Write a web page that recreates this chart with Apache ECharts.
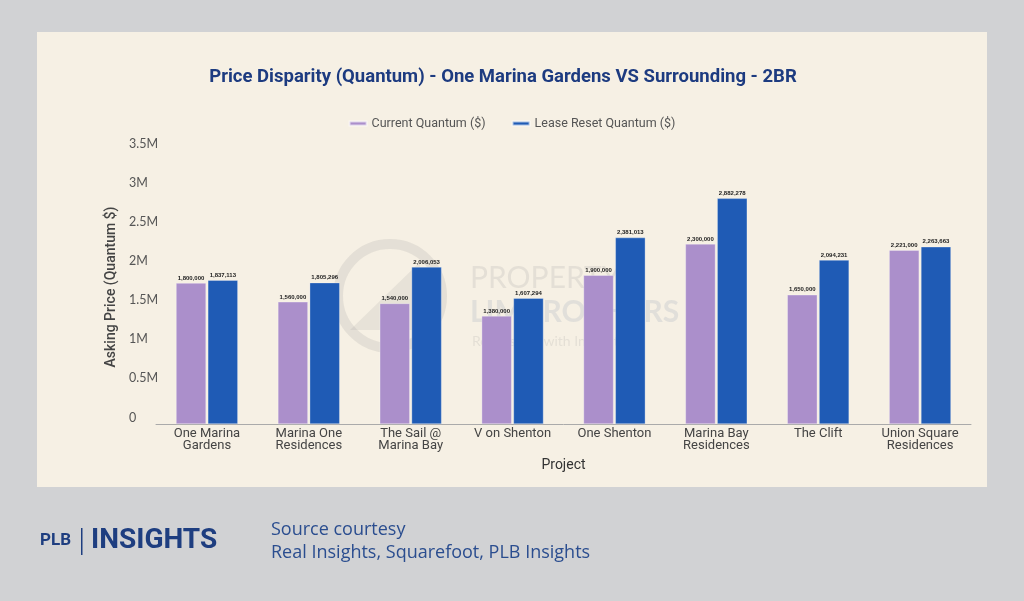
<!DOCTYPE html>
<html><head><meta charset="utf-8">
<script src="https://cdn.jsdelivr.net/npm/echarts@6/dist/echarts.min.js"></script>
<style>html,body{margin:0;padding:0;background:#d1d2d4}#c{width:1024px;height:601px}</style>
</head><body><div id="c"></div>
<script>
const categories = ['One Marina\nGardens','Marina One\nResidences','The Sail @\nMarina Bay','V on Shenton','One Shenton','Marina Bay\nResidences','The Clift','Union Square\nResidences'];
const currentQuantum = [1800000, 1560000, 1540000, 1380000, 1900000, 2300000, 1650000, 2221000];
const leaseResetQuantum = [1837113, 1805296, 2006053, 1607294, 2381013, 2882278, 2094231, 2263663];
const yTickLabels = ['0','0.5M','1M','1.5M','2M','2.5M','3M','3.5M'];

const chart = echarts.init(document.getElementById('c'));
const fmt = v => v.toLocaleString('en-US');
const labelCfg = {show:true, position:'top', distance:2, fontSize:6, fontWeight:'bold', color:'#222', formatter:p=>fmt(p.value)};
chart.setOption({
  backgroundColor:'#d1d2d4',
  animation:false,
  graphic:[
    {type:'rect', z:-10, shape:{x:37,y:32,width:950,height:455}, style:{fill:'#f6f0e4'}},
    {type:'group', z:100, silent:true, children:[
      {type:'circle', shape:{cx:390,cy:296,r:52}, style:{fill:'none', stroke:'rgba(150,150,150,0.18)', lineWidth:10}},
      {type:'polygon', shape:{points:[[350,330],[420,262],[420,330]]}, style:{fill:'rgba(150,150,150,0.15)'}},
      {type:'text', style:{x:470,y:278,text:'PROPERTY',font:'30px Lato, sans-serif',fill:'rgba(150,150,150,0.18)',verticalAlign:'middle'}},
      {type:'text', style:{x:470,y:312,text:'LIMBROTHERS',font:'bold 30px Lato, sans-serif',fill:'rgba(120,135,165,0.16)',verticalAlign:'middle'}},
      {type:'text', style:{x:472,y:341,text:'Real Estate with Integrity',font:'14px Lato, sans-serif',fill:'rgba(150,150,150,0.18)',verticalAlign:'middle'}}
    ]},
    {type:'text', style:{x:40,y:541,text:'PLB',font:'bold 17px Roboto, sans-serif',fill:'#1e3e80',verticalAlign:'middle'}},
    {type:'rect', shape:{x:81,y:528,width:1.5,height:27}, style:{fill:'#1e3e80'}},
    {type:'text', style:{x:91,y:541,text:'INSIGHTS',font:'bold 28px Roboto, sans-serif',fill:'#1e3e80',verticalAlign:'middle'}},
    {type:'text', style:{x:271,y:530,text:'Source courtesy',font:'18px "Open Sans", sans-serif',fill:'#2a4d8f',verticalAlign:'middle'}},
    {type:'text', style:{x:271,y:553,text:'Real Insights, Squarefoot, PLB Insights',font:'18px "Open Sans", sans-serif',fill:'#2a4d8f',verticalAlign:'middle'}}
  ],
  title:{text:'Price Disparity (Quantum) - One Marina Gardens VS Surrounding - 2BR', left:498, textAlign:'center', top:63,
    textStyle:{fontSize:18.5, fontWeight:'bold', color:'#1d3b80', fontFamily:'Roboto'}},
  legend:{top:112, left:'center', itemWidth:17, itemHeight:4, itemGap:26, icon:'rect',
    textStyle:{fontSize:12.5, color:'#555', fontFamily:'Roboto'}},
  grid:{left:156, right:53, top:150, bottom:177},
  xAxis:{type:'category', data:categories, name:'Project', nameLocation:'middle', nameGap:34,
    nameTextStyle:{fontSize:14, color:'#333', fontFamily:'Roboto'},
    axisLine:{lineStyle:{color:'#aaa'}}, axisTick:{show:false},
    axisLabel:{fontSize:13, color:'#444', lineHeight:12.5, margin:3, interval:0, fontFamily:'Roboto'}},
  yAxis:{type:'value', min:0, max:3500000, interval:500000, name:'Asking Price (Quantum $)', nameLocation:'middle', nameGap:37,
    nameTextStyle:{fontSize:14, color:'#444', fontFamily:'Roboto', fontWeight:500},
    splitLine:{show:false}, axisLine:{show:false}, axisTick:{show:false},
    axisLabel:{align:'left', margin:27, verticalAlign:'bottom', fontSize:12.5, color:'#555', fontFamily:'Lato',
      formatter:(v)=>yTickLabels[Math.round(v/500000)]}},
  series:[
    {name:'Current Quantum ($)', type:'bar', data:currentQuantum, barWidth:30, barGap:'6%',
      itemStyle:{color:'#ab8fcb', borderColor:'rgba(255,255,255,0.6)', borderWidth:0.5}, label:labelCfg},
    {name:'Lease Reset Quantum ($)', type:'bar', data:leaseResetQuantum, barWidth:30, barGap:'6%',
      itemStyle:{color:'#1f5bb5', borderColor:'rgba(255,255,255,0.6)', borderWidth:0.5}, label:labelCfg}
  ]
});
</script></body></html>
